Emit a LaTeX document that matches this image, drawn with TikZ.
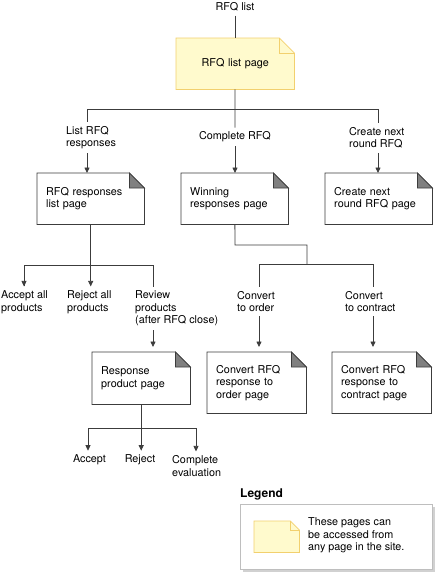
\documentclass[tikz,border=0pt]{standalone}
\usepackage{fontspec}
\setmainfont{TeX Gyre Heros}
\usetikzlibrary{arrows.meta, backgrounds, shadows}

\definecolor{notefill}{RGB}{255,250,205}
\definecolor{noteline}{RGB}{242,208,110}
\definecolor{lineclr}{RGB}{60,60,60}
\definecolor{foldclr}{RGB}{128,128,128}
\definecolor{legline}{RGB}{190,190,190}

\begin{document}
\begin{tikzpicture}[x=1pt, y=-1pt,
		font=\fontsize{10.8}{12.5}\selectfont,
		conn/.style={draw=lineclr, line width=0.8pt},
		arr/.style={conn, -{Triangle[length=5.5pt, width=5pt]}},
		pagenode/.style={rectangle, anchor=north west, inner xsep=9pt, inner ysep=0pt, align=left},
		lbl/.style={inner xsep=0pt, inner ysep=4pt, align=left}]
				\useasboundingbox (0,0) rectangle (436,574);
				
				%%% PAGINAS
				\node[pagenode, align=center, text width=100pt, minimum height=51pt] (lst) at (176,38) {RFQ list page};
				\node[pagenode, text width=89pt, minimum height=51pt] (rsp) at (37,173) {RFQ responses\\list page};
				\node[pagenode, text width=89pt, minimum height=51pt] (win) at (181,173) {Winning\\responses page};
				\node[pagenode, text width=89pt, minimum height=51pt] (nxt) at (325,173) {Create next\\round RFQ page};
				\node[pagenode, text width=80pt, minimum height=52pt] (prd) at (92,352) {Response\\product page};
				\node[pagenode, text width=81pt, minimum height=61pt] (ord) at (207,352) {Convert RFQ\\response to\\order page};
				\node[pagenode, text width=81pt, minimum height=61pt] (con) at (332,352) {Convert RFQ\\response to\\contract page};
				
				%%% ACCIONES
				\node[lbl] (rfq) at (235,7) {RFQ list};
				\node[lbl, anchor=west] (lrr) at (66,137.5) {List RFQ\\responses};
				\node[lbl] (crfq) at (235,137) {Complete RFQ};
				\node[lbl, anchor=west] (cnr) at (349,138) {Create next\\round RFQ};
				\node[lbl, anchor=west] (aap) at (1,302) {Accept all\\products};
				\node[lbl, anchor=west] (rap) at (67,302) {Reject all\\products};
				\node[lbl, anchor=west] (rvp) at (135,308.5) {Review\\products\\(after RFQ close)};
				\node[lbl, anchor=west] (cto) at (237,301.5) {Convert\\to order};
				\node[lbl, anchor=west] (ctc) at (345,301.5) {Convert\\to contract};
				\node[lbl] (acc) at (89.5,460) {Accept};
				\node[lbl] (rej) at (140,460) {Reject};
				\node[lbl, anchor=west] (cev) at (172,466) {Complete\\evaluation};
				
				%%% LEYENDA
				\node[lbl, anchor=west, font=\fontsize{12}{14}\selectfont\bfseries] (leg) at (240,494) {Legend};
				\node[pagenode, minimum width=45pt, minimum height=31pt] (note) at (254,521) {};
				\node[lbl, anchor=west] (ltx) at (308,535.5) {These pages can\\be accessed from\\any page in the site.};
				
				%%% CONTORNOS
				\begin{scope}[on background layer]
					\draw[draw=legline, line width=0.8pt, fill=white, drop shadow={shadow xshift=2.5pt, shadow yshift=-2.5pt, fill=black!18, opacity=1}] (240,504) rectangle (432,569);
					\foreach \n in {rsp, win, nxt, prd, ord, con} {
						\draw[conn] (\n.north west) -- ([xshift=-15pt]\n.north east) -- ([yshift=-15pt]\n.north east) -- (\n.south east) -- (\n.south west) -- cycle;
						\filldraw[conn, fill=foldclr] ([xshift=-15pt]\n.north east) -- ([yshift=-15pt]\n.north east) -- ([shift={(-15pt,-15pt)}]\n.north east) -- cycle;
					}
					\foreach \n/\d in {lst/15pt, note/9pt} {
						\filldraw[draw=noteline, fill=notefill, line width=0.8pt] (\n.north west) -- ([xshift=-\d]\n.north east) -- ([yshift=-\d]\n.north east) -- (\n.south east) -- (\n.south west) -- cycle;
						\draw[noteline, line width=0.8pt] ([xshift=-\d]\n.north east) -- ([shift={(-\d,-\d)}]\n.north east) -- ([yshift=-\d]\n.north east);
					}
				\end{scope}
				
				%%% CONEXIONES
				\coordinate (top) at (235,109);
				\coordinate (tl) at (87,109);
				\coordinate (tr) at (378,109);
				\draw[conn] (rfq) -- (rfq |- lst.north);
				\draw[conn] (lst) -- (top) -- (crfq);
				\draw[conn] (tl |- lrr.north) -- (tl) -- (tr) -- (tr |- cnr.north);
				\draw[arr] (tl |- lrr.south) -- (tl |- rsp.north);
				\draw[arr] (crfq) -- (crfq |- win.north);
				\draw[arr] (tr |- cnr.south) -- (tr |- nxt.north);
				
				\coordinate (rl) at (24,265);
				\coordinate (rr) at (153,265);
				\draw[conn] (rsp) -- (rsp |- rl);
				\draw[conn] (rl |- aap.north) -- (rl) -- (rr) -- (rr |- rvp.north);
				\draw[arr] (rl) -- (rl |- aap.north);
				\draw[arr] (rsp |- rl) -- (rsp |- rap.north);
				\draw[arr, shorten >=5pt] (rr |- rvp.south) -- (rr |- prd.north);
				
				\coordinate (wb) at (235,245);
				\coordinate (wt) at (307,245);
				\coordinate (wl) at (259,264);
				\coordinate (wr) at (373,264);
				\draw[conn] (win) -- (wb) -- (wt) -- (wt |- wl);
				\draw[conn] (wl |- cto.north) -- (wl) -- (wr) -- (wr |- ctc.north);
				\draw[arr, shorten >=5pt] (wl |- cto.south) -- (wl |- ord.north);
				\draw[arr, shorten >=5pt] (wr |- ctc.south) -- (wr |- con.north);
				
				\coordinate (pl) at (88,428);
				\coordinate (pr) at (196,428);
				\draw[conn] (prd) -- (prd |- pl);
				\draw[conn] (pl) -- (pr);
				\draw[arr] (pl) -- (pl |- acc.north);
				\draw[arr] (prd |- pl) -- (prd |- rej.north);
				\draw[arr] (pr) -- (pr |- cev.north);
			\end{tikzpicture}
\end{document}
